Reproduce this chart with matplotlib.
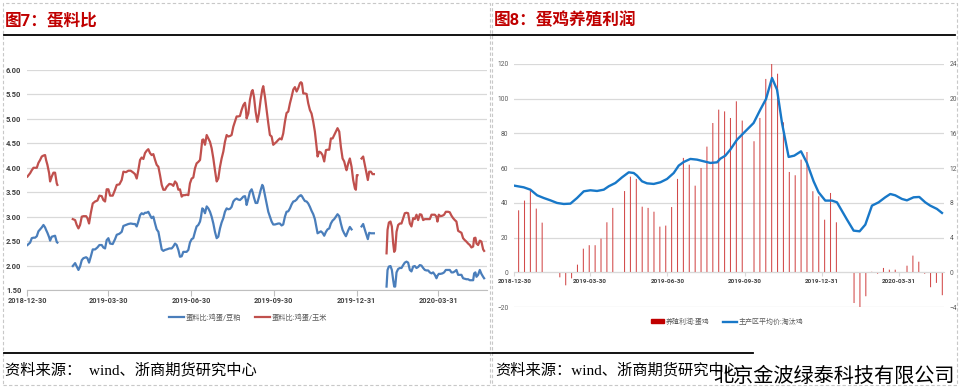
import numpy as np
import pandas as pd
import matplotlib
matplotlib.use('Agg')
import matplotlib.pyplot as plt
from matplotlib.lines import Line2D
from matplotlib.patches import Rectangle, Patch
from matplotlib.ticker import FormatStrFormatter

plt.rcParams['font.family'] = ['Roboto', 'Noto Sans CJK SC', 'DejaVu Sans']

base = pd.Timestamp('2018-12-30')
tick_dates = ['2018-12-30', '2019-03-30', '2019-06-30', '2019-09-30', '2019-12-31', '2020-03-31']

# ---- 图7 蛋料比: days after 2018-12-30 ----
ratio_days = [
    # 2018-12 ~ 2019-02
    0, 3.0, 4.8, 6.7, 8.5, 10.4, 12.2, 14.1, 15.9, 17.8, 19.6, 20.7, 22.2, 24.1, 25.2, 27.0, 28.9, 30.7, 32.6, 33.3,
    # 2019-02 ~ 2019-08
    50.4, 53.0, 54.8, 56.7, 58.5, 60.4, 62.2, 65.2, 66.7, 68.5,
    70.4, 72.6, 75.2, 77.8, 80.0, 82.6, 84.4, 86.3, 88.1, 90.0,
    91.9, 94.8, 97.4, 99.3, 102.2, 104.8, 106.7, 109.6, 112.2, 114.8,
    117.8, 119.6, 121.5, 123.3, 125.2, 127.0, 128.9, 130.7, 132.6, 134.4,
    136.3, 138.1, 140.0, 141.9, 143.7, 145.6, 147.4, 149.3, 151.1, 153.0,
    154.8, 157.8, 160.4, 162.2, 164.1, 165.9, 167.8, 169.6, 171.5, 173.3,
    175.2, 177.0, 178.9, 180.7, 182.6, 184.4, 186.3, 188.1, 190.0, 191.9,
    193.0, 194.4, 195.6, 197.4, 199.3, 201.1, 203.0, 204.8, 206.7, 208.5,
    210.4, 212.2, 214.1, 215.9, 217.8, 219.6, 221.5, 223.3, 225.2, 227.0,
    228.9, 230.7, 232.6, 234.4, 236.3, 238.1, 240.0, 241.9, 243.0,
    # 2019-08 ~ 2020-01
    243.7, 245.6, 247.4, 249.3, 250.4, 251.9, 253.7, 255.6, 257.4, 259.3,
    261.1, 262.2, 264.1, 265.9, 267.8, 269.6, 271.5, 273.3, 275.2, 277.0,
    278.9, 280.7, 282.6, 284.4, 286.3, 288.1, 290.0, 291.9, 293.7, 295.6,
    297.4, 299.3, 301.1, 303.0, 304.1, 305.2, 306.7, 308.5, 310.4, 312.2,
    314.1, 315.9, 317.8, 319.6, 321.5, 322.6, 324.4, 326.3, 328.1, 330.0,
    331.9, 333.7, 335.6, 337.4, 339.3, 341.1, 343.0, 344.8, 346.7, 348.5,
    350.4, 352.2, 354.1, 354.8, 356.7, 358.5, 360.4, 362.2, 364.1, 365.2,
    366.3, 367.0,
    # 2020-01
    371.5, 373.3, 375.2, 377.0, 378.5, 380.0, 381.9, 383.7, 385.2,
    # 2020-02 ~ 2020-05
    399.3, 400.4, 401.9, 403.7, 405.2, 406.7, 407.8, 408.9, 410.4,
    412.2, 414.1, 415.9, 417.8, 419.6, 421.5, 423.3, 425.2, 427.0, 428.9, 430.7, 432.6,
    434.4, 436.3, 438.1, 440.0, 441.9, 443.7, 445.6, 447.4, 449.3, 451.1, 453.0, 454.8,
    455.9, 457.4, 459.3, 461.5, 463.3, 465.2,
    467.8, 469.6, 471.5, 473.3, 475.2, 477.0, 478.9, 480.7, 482.6, 484.4, 486.3, 488.1,
    490.0, 491.9, 493.7, 495.6, 496.7, 498.1, 499.3, 501.1, 503.0, 504.8, 506.7, 507.8,
]

egg_corn = [
    3.82, 3.89, 3.95, 4.00, 4.00, 4.00, 4.10, 4.16, 4.23, 4.25, 4.26, 4.16, 4.06, 3.89, 3.72, 3.82, 3.90, 3.90, 3.68, 3.65,
    2.95, 2.93, 2.83, 2.76, 2.83, 3.00, 3.01, 3.01, 2.97, 2.86,
    3.07, 3.27, 3.31, 3.33, 3.43, 3.42, 3.34, 3.31, 3.56, 3.56,
    3.43, 3.43, 3.55, 3.65, 3.66, 3.75, 3.92, 3.91, 3.94, 3.94,
    3.90, 3.87, 3.78, 3.95, 4.16, 4.21, 4.18, 4.30, 4.35, 4.38,
    4.30, 4.26, 4.28, 4.16, 4.06, 4.02, 3.85, 3.65, 3.55, 3.55,
    3.61, 3.67, 3.66, 3.63, 3.72, 3.68, 3.55, 3.56, 3.41, 3.44,
    3.44, 3.45, 3.44, 3.68, 3.78, 3.80, 3.99, 4.09, 4.12, 4.16,
    4.33, 4.57, 4.58, 4.47, 4.67, 4.60, 4.53, 4.40, 4.19, 3.95,
    3.72, 3.78, 4.02, 4.19, 4.33, 4.53, 4.67, 4.64, 4.65, 4.67,
    4.84, 4.94, 5.05, 5.05, 5.06, 5.18, 5.28, 5.33, 5.18,
    5.01, 5.11, 5.39, 5.56, 5.59, 5.45, 5.15, 4.94, 5.11, 5.39,
    5.60, 5.67, 5.45, 5.18, 4.91, 4.67, 4.64, 4.47, 4.50, 4.53,
    4.57, 4.60, 4.58, 4.70, 4.94, 5.12, 5.15, 5.32, 5.45, 5.60,
    5.65, 5.56, 5.63, 5.73, 5.75, 5.73, 5.52, 5.52, 5.51, 5.32,
    5.18, 5.11, 4.94, 4.74, 4.43, 4.23, 4.33, 4.31, 4.26, 4.13,
    4.36, 4.37, 4.37, 4.60, 4.60, 4.67, 4.74, 4.81, 4.74, 4.43,
    4.19, 4.13, 3.99, 3.95, 4.09, 4.19, 4.02, 3.75, 3.58, 3.55,
    3.85, 3.85,
    4.19, 4.23, 4.06, 3.89, 3.75, 3.92, 3.92, 3.87, 3.87,
    2.25, 2.73, 2.88, 2.90, 2.80, 2.45, 2.28, 2.32, 2.69,
    2.83, 2.86, 2.86, 2.97, 3.07, 3.08, 3.07, 2.86, 2.80, 2.97, 2.95, 3.04,
    2.93, 3.05, 3.04, 2.93, 2.95, 2.95, 2.95, 2.95, 3.04, 3.04, 3.04, 3.00,
    2.90, 3.04, 3.01, 3.02, 3.04, 3.10,
    3.10, 3.09, 3.02, 2.97, 2.93, 2.90, 2.71, 2.69, 2.67, 2.56, 2.52, 2.49,
    2.45, 2.42, 2.37, 2.39, 2.56, 2.57, 2.45, 2.42, 2.51, 2.49, 2.33, 2.30,
]

egg_meal = [
    2.42, 2.47, 2.56, 2.57, 2.57, 2.60, 2.70, 2.74, 2.78, 2.83, 2.78, 2.73, 2.67, 2.58, 2.51, 2.59, 2.60, 2.61, 2.48, 2.47,
    1.99, 2.05, 1.98, 1.91, 1.98, 2.11, 2.15, 2.17, 2.15, 2.06,
    2.18, 2.33, 2.33, 2.37, 2.42, 2.42, 2.37, 2.35, 2.52, 2.56,
    2.45, 2.44, 2.54, 2.63, 2.65, 2.69, 2.81, 2.83, 2.85, 2.86,
    2.85, 2.85, 2.80, 2.90, 3.03, 3.07, 3.05, 3.08, 3.08, 3.10,
    3.03, 2.97, 3.00, 2.86, 2.74, 2.69, 2.52, 2.33, 2.30, 2.32,
    2.33, 2.35, 2.35, 2.39, 2.45, 2.42, 2.32, 2.18, 2.19, 2.28,
    2.28, 2.28, 2.32, 2.47, 2.54, 2.56, 2.69, 2.80, 2.83, 2.90,
    3.00, 3.17, 3.15, 3.07, 3.21, 3.17, 3.10, 3.00, 2.86, 2.69,
    2.56, 2.59, 2.76, 2.88, 2.97, 3.10, 3.17, 3.15, 3.16, 3.20,
    3.31, 3.35, 3.37, 3.35, 3.34, 3.37, 3.41, 3.42, 3.33,
    3.24, 3.37, 3.51, 3.56, 3.50, 3.39, 3.28, 3.28, 3.40, 3.54,
    3.65, 3.61, 3.44, 3.27, 3.10, 3.00, 2.90, 2.84, 2.84, 2.85,
    2.86, 2.86, 2.82, 2.84, 3.00, 3.10, 3.11, 3.17, 3.25, 3.31,
    3.32, 3.35, 3.40, 3.43, 3.44, 3.42, 3.37, 3.32, 3.31, 3.27,
    3.20, 3.12, 3.05, 2.95, 2.76, 2.66, 2.68, 2.70, 2.67, 2.61,
    2.69, 2.74, 2.76, 2.86, 2.92, 2.95, 3.00, 3.05, 3.01, 2.86,
    2.73, 2.66, 2.60, 2.63, 2.72, 2.79, 2.74, np.nan, np.nan, np.nan,
    np.nan, np.nan,
    2.80, 2.85, 2.73, 2.63, 2.54, 2.67, 2.66, 2.66, 2.66,
    1.57, 1.91, 1.98, 1.99, 1.91, 1.70, 1.57, 1.57, 1.86,
    1.93, 1.95, 1.95, 2.01, 2.06, 2.08, 2.06, 1.91, 1.88, 1.98, 1.99, 1.95,
    1.97, 2.01, 2.00, 1.95, 1.91, 1.90, 1.90, 1.86, 1.84, 1.86, 1.81, 1.74,
    1.79, 1.83, 1.83, 1.84, 1.86, 1.91,
    1.91, 1.91, 1.86, 1.86, 1.88, 1.91, 1.81, 1.81, 1.81, 1.74, 1.73, 1.72,
    1.72, 1.70, 1.70, 1.70, 1.84, 1.86, 1.77, 1.81, 1.91, 1.83, 1.77, 1.74,
]

# ---- 图8 蛋鸡养殖利润 (weekly, from 2019-01-04) ----
profit = [
    35.7, 41.3, 47.0, 36.7, 28.6, 0, 0, -2.9, -7.5, -3.5,
    4.4, 13.6, 15.6, 15.6, 19.4, 28.8, 37.1, np.nan, 46.8, 55.1,
    53.8, 37.8, 37.1, 34.9, 26.3, 26.9, 37.6, 53.8, 65.9, 62.0,
    49.9, 60.1, 72.4, 86.0, 93.7, 92.7, 88.9, 98.5, 87.4, np.nan,
    75.5, 88.9, 111.4, 120.0, 114.4, 86.4, 57.8, 55.9, 64.9, 69.3,
    46.7, 43.8, 30.3, 45.7, 28.8, np.nan, np.nan, -17.7, -20.0, -13.8,
    0.3, -0.8, 2.5, 1.5, 1.5, 0, 3.8, 9.6, 6.1, -0.8,
    -8.6, -6.1, -13.2,
]

hen_days = [
    0, 11.1, 19.0, 27.0, 34.9, 42.8, 50.7, 58.7, 66.6, 74.5,
    82.5, 90.4, 98.3, 106.3, 112.2, 120.1, 128.0, 136.0, 141.9, 145.8,
    151.8, 157.7, 165.7, 173.6, 181.5, 189.5, 195.4, 201.4, 209.3, 217.2,
    225.1, 233.1, 241.0, 244.9, 250.9, 256.8, 264.8, 272.7, 284.5, 292.5,
    299.3, 306.4, 312.4, 318.3, 326.2, 332.9, 340.9, 348.0, 355.9, 361.8,
    369.8, 377.8, 383.7, 395.6, 403.5, 410.6, 417.4, 425.3, 433.2, 441.1,
    447.1, 453.0, 461.0, 466.9, 474.8, 481.6, 488.7, 494.6, 502.6, 508.6,
]
hen_price = [
    9.98, 9.79, 9.52, 8.87, 8.56, 8.29, 7.99, 7.87, 7.91, 8.56,
    9.33, 9.45, 9.37, 9.52, 9.91, 10.29, 10.94, 11.52, 11.44, 11.14,
    10.48, 10.25, 10.18, 10.37, 10.75, 11.44, 12.29, 12.71, 13.06, 12.98,
    12.79, 12.60, 12.67, 13.09, 13.44, 14.13, 15.28, 16.05, 17.20, 18.74,
    19.97, 22.39, 21.04, 17.20, 13.29, 13.44, 13.94, 12.60, 10.48, 9.22,
    8.26, 8.26, 8.06, 6.07, 4.80, 4.72, 5.49, 7.68, 8.06, 8.64,
    9.02, 8.87, 8.45, 8.29, 8.64, 8.68, 8.06, 7.68, 7.30, 6.84,
]


def with_gaps(days, vals, gap=4.0):
    d = np.asarray(days, float)
    v = np.asarray(vals, float)
    cut = np.where(np.diff(d) > gap)[0] + 1
    d = np.insert(d, cut, d[cut] - 0.5)
    v = np.insert(v, cut, np.nan)
    return base + pd.to_timedelta(d, unit='D'), v


W, H = 959, 388
fig = plt.figure(figsize=(W / 100, H / 100), dpi=100)


def fx(px):
    return px / W


def fy(py):
    return 1 - py / H


xmin = base - pd.Timedelta(days=0.5)
xmax = base + pd.Timedelta(days=511)
ticks = pd.to_datetime(tick_dates)

# ---------- left: 蛋料比 ----------
ax1 = fig.add_axes([fx(27), fy(290), fx(487) - fx(27), fy(70) - fy(290)])
d, v = with_gaps(ratio_days, egg_meal)
ax1.plot(d, v, color='#4a7ebb', lw=1.6)
d, v = with_gaps(ratio_days, egg_corn)
ax1.plot(d, v, color='#c0504d', lw=1.6)
ax1.set_xlim(xmin, xmax)
ax1.set_ylim(1.5, 6.0)
ax1.set_yticks(np.arange(1.5, 6.01, 0.5))
ax1.yaxis.set_major_formatter(FormatStrFormatter('%.2f'))
ax1.set_xticks(ticks)
ax1.set_xticklabels(tick_dates)
ax1.yaxis.grid(True, color='#d9d9d9', lw=0.9)
ax1.set_axisbelow(True)
for s in ['top', 'right', 'left']:
    ax1.spines[s].set_visible(False)
ax1.spines['bottom'].set_color('#bfbfbf')
ax1.tick_params(axis='y', length=0, pad=4, labelsize=5.5, labelcolor='#404040')
ax1.tick_params(axis='x', length=4, color='#bfbfbf', pad=1, labelsize=5.2, labelcolor='#404040')
for lbl in ax1.get_xticklabels() + ax1.get_yticklabels():
    lbl.set_fontweight('bold')

fig.legend(handles=[Line2D([], [], color='#4a7ebb', lw=1.6), Line2D([], [], color='#c0504d', lw=1.6)],
           labels=['蛋料比:鸡蛋/豆粕', '蛋料比:鸡蛋/玉米'],
           loc='center', bbox_to_anchor=(fx(248), fy(318)), ncol=2, frameon=False,
           fontsize=5.2, labelcolor='#595959', handlelength=2.1, handletextpad=0.2, columnspacing=2.0)

# ---------- right: 蛋鸡养殖利润 ----------
ax2 = fig.add_axes([fx(514), fy(307), fx(944) - fx(514), fy(64) - fy(307)])
bar_dates = pd.date_range('2019-01-04', periods=len(profit), freq='7D')
ax2.bar(bar_dates, profit, width=1.25, color='#d24a4a', lw=0, snap=False, zorder=2)
ax2.set_xlim(xmin, xmax)
ax2.set_ylim(-20, 120)
ax2.set_yticks(np.arange(-20, 121, 20))
ax2.set_xticks(ticks)
ax2.set_xticklabels(tick_dates)
ax2.yaxis.grid(True, color='#d9d9d9', lw=0.9)
ax2.set_axisbelow(True)
for s in ['top', 'right', 'left']:
    ax2.spines[s].set_visible(False)
ax2.spines['bottom'].set_position(('data', 0))
ax2.spines['bottom'].set_color('#d9d9d9')
ax2.tick_params(axis='y', length=0, pad=4, labelsize=4.8, labelcolor='#595959')
ax2.tick_params(axis='x', length=3, color='#d9d9d9', pad=1.5, labelsize=4.6, labelcolor='#404040')
for lbl in ax2.get_xticklabels():
    lbl.set_fontweight('bold')

ax3 = ax2.twinx()
hd = base + pd.to_timedelta(np.asarray(hen_days), unit='D')
ax3.plot(hd, hen_price, color='#1878c8', lw=1.7, zorder=3)
ax3.set_xlim(xmin, xmax)
ax3.set_ylim(-4, 24)
ax3.set_yticks(np.arange(-4, 25, 4))
for s in ax3.spines.values():
    s.set_visible(False)
ax3.tick_params(axis='y', length=0, pad=4, labelsize=4.8, labelcolor='#595959')

fig.legend(handles=[Patch(color='#c00000'), Line2D([], [], color='#1878c8', lw=1.7)],
           labels=['养殖利润:蛋鸡', '主产区平均价:淘汰鸡'],
           loc='center', bbox_to_anchor=(fx(727), fy(322)), ncol=2, frameon=False,
           fontsize=5.0, labelcolor='#595959', handlelength=2.0, handleheight=0.5,
           handletextpad=0.2, columnspacing=2.0)

# ---------- frames, titles, source ----------
for x0, x1 in [(3, 490), (492, 957)]:
    fig.add_artist(Rectangle((fx(x0), fy(385)), fx(x1) - fx(x0), fy(3) - fy(385),
                             transform=fig.transFigure, fill=False, ec='#c8c8c8', lw=0.8, ls=(0, (3, 2))))

title_kw = dict(fontsize=12, color='#c00000', fontweight='bold', va='center', ha='left')
fig.text(fx(5), fy(20), '图7：蛋料比', **title_kw)
fig.text(fx(494), fy(20), '图8：蛋鸡养殖利润', **title_kw)

for x0, x1, y in [(4, 490, 35), (492, 955, 35), (4, 490, 353), (492, 753, 353)]:
    fig.add_artist(Line2D([fx(x0), fx(x1)], [fy(y), fy(y)], color='black', lw=1.3))

src_kw = dict(fontsize=11, color='black', va='center', ha='left',
              family=['Liberation Serif', 'Noto Sans CJK SC'])
fig.text(fx(5), fy(370), '资料来源：  wind、浙商期货研究中心', **src_kw)
fig.text(fx(495), fy(370), '资料来源：wind、浙商期货研究中心', **src_kw)

fig.text(fx(955), fy(376), '北京金波绿泰科技有限公司', fontsize=14.5, color='black',
         va='center', ha='right', family=['Noto Sans CJK SC'])

fig.savefig('out.png', dpi=100)
